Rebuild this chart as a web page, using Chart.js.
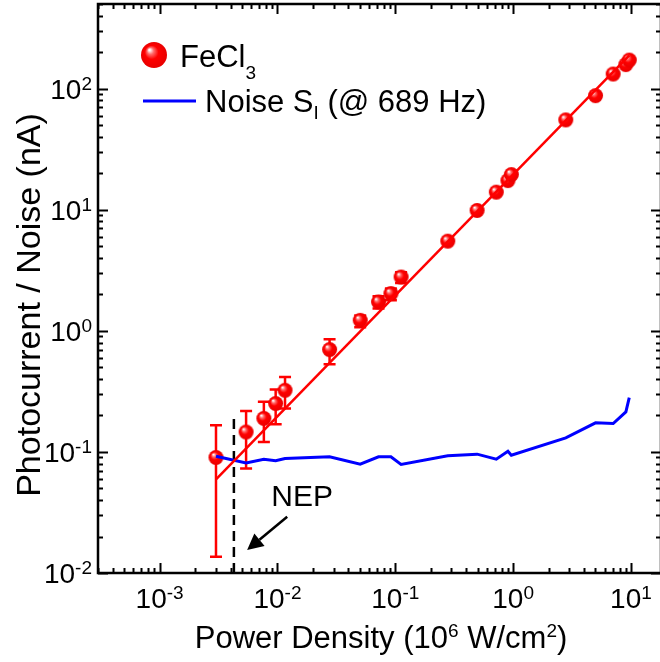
<!DOCTYPE html>
<html>
<head>
<meta charset="utf-8">
<script src="https://cdn.jsdelivr.net/npm/chart.js@4.4.0/dist/chart.umd.min.js"></script>
<style>
html, body { margin: 0; background: #fff; overflow: hidden; }
#wrap { width: 662px; height: 662px; }
</style>
</head>
<body>
<div id="wrap"><canvas id="chart" width="662" height="662"></canvas></div>
<script>
// power density (10^6 W/cm2)
var power = [0.00301, 0.00542, 0.00767, 0.00966, 0.0116, 0.0277, 0.0504, 0.0721, 0.0918, 0.112,
             0.279, 0.495, 0.72, 0.904, 0.966, 2.80, 5.01, 7.07, 9.06, 9.68];
// photocurrent (nA)
var photocurrent = [0.090, 0.146, 0.189, 0.251, 0.323, 0.700, 1.22, 1.73, 2.03, 2.78,
                    5.50, 9.86, 13.96, 17.4, 19.5, 55.2, 87.5, 132, 158, 172];
var errLow = [0.0136, 0.073, 0.121, 0.169, 0.228, 0.529, 1.07, 1.53, 1.79, 2.48,
              5.3, 9.5, 13.5, 16.8, 18.8, 53.5, 85, 128, 153, 167];
var errHigh = [0.166, 0.218, 0.259, 0.327, 0.416, 0.851, 1.34, 1.93, 2.24, 3.05,
               5.7, 10.2, 14.5, 18.0, 20.2, 57, 90, 136, 163, 177];
// noise S_I at 689 Hz (nA)
var noise = [0.0922, 0.0812, 0.0871, 0.0844, 0.0883, 0.0910, 0.0793, 0.0910, 0.0910, 0.0788,
             0.0928, 0.0958, 0.0871, 0.1014, 0.0940, 0.1306, 0.1737, 0.1716, 0.214, 0.281];
// linear fit
var fitX = [0.00301, 9.68];
var fitY = [0.0593, 188];
// NEP marker
var nepX = [0.00427, 0.00427];
var nepY = [0.01, 0.21];
var nepText = [0.0162, 0.042];
var nepArrowFrom = [0.0121, 0.0291];
var nepArrowTo = [0.00553, 0.0155];

var xTicks = [1e-3, 1e-2, 1e-1, 1, 10];
var yTicks = [1e-2, 1e-1, 1, 10, 100];

var FONT = 'Liberation Sans, Arial, Helvetica, sans-serif';

function makeBall(r) {
  var c = document.createElement('canvas');
  var s = Math.ceil(r * 2 + 2);
  c.width = s; c.height = s;
  var g = c.getContext('2d');
  var cx = s / 2, cy = s / 2;
  var grad = g.createRadialGradient(cx - r * 0.35, cy - r * 0.4, r * 0.05, cx, cy, r);
  grad.addColorStop(0, '#ffffff');
  grad.addColorStop(0.22, '#ff6a6a');
  grad.addColorStop(0.5, '#ff0000');
  grad.addColorStop(1, '#e80000');
  g.fillStyle = grad;
  g.beginPath();
  g.arc(cx, cy, r, 0, Math.PI * 2);
  g.fill();
  return c;
}
var ball = makeBall(7.5);
var bigBall = makeBall(13);

function toXY(xs, ys) {
  return xs.map(function (x, i) { return {x: x, y: ys[i]}; });
}

// text runs: [text, size, baseline shift]
function runWidth(ctx, parts) {
  var w = 0;
  parts.forEach(function (p) { ctx.font = p[1] + 'px ' + FONT; w += ctx.measureText(p[0]).width; });
  return w;
}
function drawRuns(ctx, parts, x, y) {
  parts.forEach(function (p) {
    ctx.font = p[1] + 'px ' + FONT;
    ctx.fillText(p[0], x, y + p[2]);
    x += ctx.measureText(p[0]).width;
  });
}
function powParts(v) {
  return [['10', 28, 0], [String(Math.round(Math.log10(v))), 19, -9]];
}

// error bars under the markers
var errorBars = {
  id: 'errorBars',
  beforeDatasetDraw: function (chart, args) {
    if (args.index !== 2) return;
    var sx = chart.scales.x, sy = chart.scales.y, ctx = chart.ctx;
    ctx.save();
    ctx.strokeStyle = '#ff0000';
    ctx.lineWidth = 2.5;
    for (var i = 0; i < power.length; i++) {
      var px = sx.getPixelForValue(power[i]);
      var t = sy.getPixelForValue(errHigh[i]);
      var b = sy.getPixelForValue(errLow[i]);
      ctx.beginPath();
      ctx.moveTo(px, t); ctx.lineTo(px, b);
      ctx.moveTo(px - 6, t); ctx.lineTo(px + 6, t);
      ctx.moveTo(px - 6, b); ctx.lineTo(px + 6, b);
      ctx.stroke();
    }
    ctx.restore();
  }
};

// frame, inward ticks, tick labels, titles, legend, NEP annotation
var frame = {
  id: 'frame',
  afterDraw: function (chart) {
    var ctx = chart.ctx, a = chart.chartArea;
    var sx = chart.scales.x, sy = chart.scales.y;
    ctx.save();
    ctx.strokeStyle = '#000';
    ctx.lineWidth = 2.5;
    ctx.strokeRect(a.left, a.top, a.right - a.left, a.bottom - a.top);
    ctx.lineWidth = 2;
    ctx.beginPath();
    for (var e = -4; e <= 2; e++) {
      for (var m = 1; m <= 9; m++) {
        var v = m * Math.pow(10, e);
        var len = m === 1 ? 10 : 5;
        if (v >= sx.min && v <= sx.max) {
          var px = Math.round(sx.getPixelForValue(v)) + 0.5;
          ctx.moveTo(px, a.bottom); ctx.lineTo(px, a.bottom - len);
          ctx.moveTo(px, a.top); ctx.lineTo(px, a.top + len);
        }
        if (v >= sy.min && v <= sy.max) {
          var py = Math.round(sy.getPixelForValue(v)) + 0.5;
          ctx.moveTo(a.left, py); ctx.lineTo(a.left + len, py);
          ctx.moveTo(a.right, py); ctx.lineTo(a.right - len, py);
        }
      }
    }
    ctx.stroke();

    // tick labels 10^n
    ctx.fillStyle = '#000';
    ctx.textAlign = 'left';
    ctx.textBaseline = 'alphabetic';
    xTicks.forEach(function (v) {
      var parts = powParts(v);
      var w = runWidth(ctx, parts);
      drawRuns(ctx, parts, sx.getPixelForValue(v) - w / 2, a.bottom + 35);
    });
    yTicks.forEach(function (v) {
      var parts = powParts(v);
      var w = runWidth(ctx, parts);
      drawRuns(ctx, parts, a.left - 6 - w, sy.getPixelForValue(v) + 10);
    });

    // x axis title
    var title = [['Power Density (10', 31, 0], ['6', 19, -11], [' W/cm', 31, 0], ['2', 19, -11], [')', 31, 0]];
    var tw = runWidth(ctx, title);
    drawRuns(ctx, title, 381 - tw / 2, 648);

    // y axis title
    ctx.save();
    ctx.translate(40, 305);
    ctx.rotate(-Math.PI / 2);
    ctx.font = '34px ' + FONT;
    ctx.textAlign = 'center';
    ctx.fillText('Photocurrent / Noise (nA)', 0, 0);
    ctx.restore();

    // legend
    ctx.drawImage(bigBall, 154 - bigBall.width / 2, 55 - bigBall.height / 2);
    drawRuns(ctx, [['FeCl', 31, 0], ['3', 19, 12]], 180, 67);
    ctx.strokeStyle = '#0000ff';
    ctx.lineWidth = 3;
    ctx.beginPath();
    ctx.moveTo(143, 101); ctx.lineTo(196, 101);
    ctx.stroke();
    drawRuns(ctx, [['Noise S', 31, 0], ['I', 19, 7], [' (@ 689 Hz)', 31, 0]], 205, 112);

    // NEP label and arrow
    ctx.font = '30px ' + FONT;
    ctx.textAlign = 'center';
    ctx.textBaseline = 'middle';
    ctx.fillText('NEP', sx.getPixelForValue(nepText[0]), sy.getPixelForValue(nepText[1]));
    var x0 = sx.getPixelForValue(nepArrowFrom[0]), y0 = sy.getPixelForValue(nepArrowFrom[1]);
    var x1 = sx.getPixelForValue(nepArrowTo[0]), y1 = sy.getPixelForValue(nepArrowTo[1]);
    var ang = Math.atan2(y1 - y0, x1 - x0);
    var hl = 16, hw = 8;
    var bx = x1 - hl * Math.cos(ang), by = y1 - hl * Math.sin(ang);
    ctx.strokeStyle = '#000';
    ctx.lineWidth = 2.5;
    ctx.beginPath();
    ctx.moveTo(x0, y0); ctx.lineTo(bx, by);
    ctx.stroke();
    ctx.beginPath();
    ctx.moveTo(x1, y1);
    ctx.lineTo(bx + hw * Math.sin(ang), by - hw * Math.cos(ang));
    ctx.lineTo(bx - hw * Math.sin(ang), by + hw * Math.cos(ang));
    ctx.closePath();
    ctx.fill();
    ctx.restore();
  }
};

new Chart(document.getElementById('chart'), {
  type: 'scatter',
  data: {
    datasets: [
      {
        label: 'fit',
        data: toXY(fitX, fitY),
        showLine: true,
        borderColor: '#ff0000',
        borderWidth: 2.5,
        pointRadius: 0
      },
      {
        label: 'Noise S_I (@ 689 Hz)',
        data: toXY(power, noise),
        showLine: true,
        borderColor: '#0000ff',
        borderWidth: 3,
        pointRadius: 0
      },
      {
        label: 'FeCl3',
        data: toXY(power, photocurrent),
        pointStyle: ball,
        pointRadius: 7.5
      },
      {
        label: 'NEP',
        data: toXY(nepX, nepY),
        showLine: true,
        borderColor: '#000',
        borderWidth: 2.5,
        borderDash: [10, 6],
        pointRadius: 0
      }
    ]
  },
  options: {
    responsive: false,
    animation: false,
    layout: { autoPadding: false, padding: { left: 0, right: 1, top: 4, bottom: 0 } },
    plugins: {
      legend: { display: false },
      tooltip: { enabled: false }
    },
    scales: {
      x: {
        type: 'logarithmic',
        min: 3e-4,
        max: 18,
        grid: { display: false, drawTicks: false },
        border: { display: false },
        afterBuildTicks: function (s) { s.ticks = xTicks.map(function (v) { return {value: v}; }); },
        ticks: { display: false },
        afterFit: function (s) { s.height = 89; s.paddingLeft = 0; s.paddingRight = 0; }
      },
      y: {
        type: 'logarithmic',
        min: 0.01,
        max: 500,
        grid: { display: false, drawTicks: false },
        border: { display: false },
        afterBuildTicks: function (s) { s.ticks = yTicks.map(function (v) { return {value: v}; }); },
        ticks: { display: false },
        afterFit: function (s) { s.width = 98; s.paddingTop = 0; s.paddingBottom = 0; }
      }
    }
  },
  plugins: [errorBars, frame]
});
</script>
</body>
</html>
